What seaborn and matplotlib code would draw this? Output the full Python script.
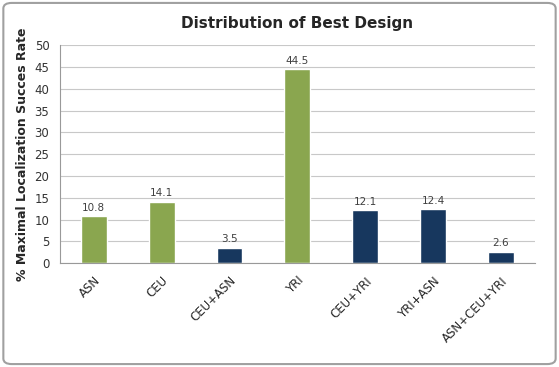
import matplotlib
matplotlib.use("Agg")
import matplotlib.pyplot as plt
from matplotlib.patches import FancyBboxPatch
import numpy as np
import pandas as pd
import seaborn as sns

designs = ['ASN', 'CEU', 'CEU+ASN', 'YRI', 'CEU+YRI', 'YRI+ASN', 'ASN+CEU+YRI']
rates = [10.8, 14.1, 3.5, 44.5, 12.1, 12.4, 2.6]
groups = ['single', 'single', 'combo', 'single', 'combo', 'combo', 'combo']
group_colors = {'single': '#8aa64f', 'combo': '#17375e'}

df = pd.DataFrame({'design': designs, 'rate': rates, 'group': groups})

sns.set_style("white")
plt.rcParams['font.family'] = ['DejaVu Sans']

fig = plt.figure(figsize=(5.59, 3.67), dpi=100)
ax = fig.add_axes([0.107, 0.283, 0.85, 0.594])

sns.barplot(data=df, x='design', y='rate', hue='design',
            palette=[group_colors[g] for g in groups],
            width=0.38, legend=False, ax=ax, saturation=1)

for i, v in enumerate(rates):
    ax.text(i, v + 0.8, f'{v}', ha='center', va='bottom', fontsize=7.5, color='#404040')

ax.set_ylim(0, 50)
ax.set_yticks(np.arange(0, 51, 5))
ax.set_xlim(-0.5, len(designs) - 0.5)
ax.yaxis.grid(True, color='#c8c8c8', linewidth=0.8)
ax.set_axisbelow(True)
for s in ['top', 'right']:
    ax.spines[s].set_visible(False)
for s in ['left', 'bottom']:
    ax.spines[s].set_color('#999999')
    ax.spines[s].set_linewidth(0.8)

ax.set_xticks(range(len(designs)))
ax.set_xticklabels(designs, rotation=45, ha='right', rotation_mode='anchor', fontsize=8.5)
ax.set_xticks(np.arange(-0.5, len(designs), 1), minor=True)
ax.tick_params(axis='x', which='major', length=0, pad=8)
ax.tick_params(axis='x', which='minor', length=4, color='#999999', direction='out')
ax.tick_params(axis='y', length=4, color='#999999', direction='out', labelsize=8.5, labelcolor='#333333')
ax.set_xlabel('')
ax.set_ylabel('% Maximal Localization Succes Rate', fontsize=9, fontweight='bold')
ax.set_title('Distribution of Best Design', fontsize=11, fontweight='bold', pad=12)

border = FancyBboxPatch((0.006, 0.008), 0.988, 0.984, boxstyle='round,pad=0,rounding_size=0.015',
                        transform=fig.transFigure, fill=False, edgecolor='#a0a0a0', linewidth=1.5)
fig.patches.append(border)

fig.savefig('out.png', dpi=100)
